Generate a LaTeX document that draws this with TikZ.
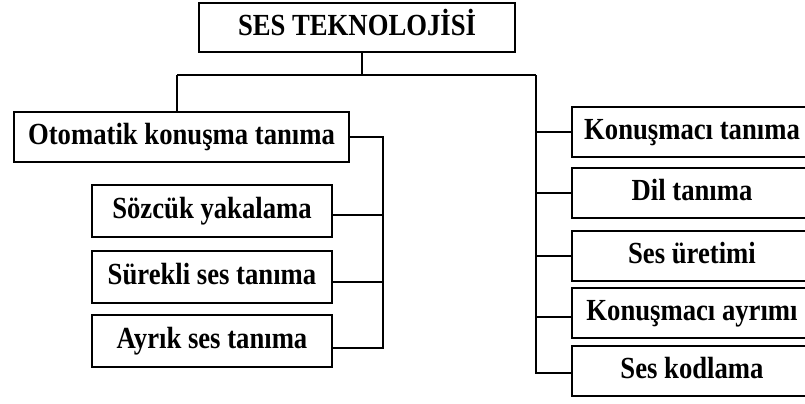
\documentclass[tikz,border=0pt]{standalone}
\usepackage{fontspec}
\setmainfont{Liberation Serif}[FakeStretch=0.87]
\begin{document}
\begin{tikzpicture}[x=0.75pt,y=-0.75pt,
  line width=1.5pt,
  box/.style={draw, line width=1.5pt, inner sep=0pt, align=center,
    font=\bfseries\fontsize{23}{27}\selectfont, text height=16pt, text depth=4.5pt},
  lbox/.style={box, minimum width=180pt, minimum height=39pt},
  rbox/.style={box, minimum width=180pt, minimum height=37.5pt}]
\clip (0,0) rectangle (805,403);
\fill[white] (0,0) rectangle (805,403);

\node[box, minimum width=237pt, minimum height=37pt] (top) at (357,27.5) {SES TEKNOLOJİSİ};
\node[box, minimum width=251pt, minimum height=37.5pt] (oto) at (181.5,137) {Otomatik konuşma tanıma};
\node[lbox] (s1) at (212,211) {Sözcük yakalama};
\node[lbox] (s2) at (212,276.5) {Sürekli ses tanıma};
\node[lbox] (s3) at (212,341) {Ayrık ses tanıma};

\node[rbox] (r1) at (692,131.5) {Konuşmacı tanıma};
\node[rbox] (r2) at (692,193) {Dil tanıma};
\node[rbox] (r3) at (692,255.5) {Ses üretimi};
\node[rbox] (r4) at (692,313) {Konuşmacı ayrımı};
\node[rbox] (r5) at (692,371) {Ses kodlama};

\coordinate (hl) at (177,75);
\coordinate (hr) at (536,75);
\coordinate (lb) at (383,137);

% top tree
\draw ([xshift=3.75pt]top.south) -- ([xshift=3.75pt]top.south |- hl);
\draw (hl) -- (hr);
\draw (hl) -- (hl |- oto.north);

% left bracket
\coordinate (c1) at ([yshift=-3pt]s1.east);
\coordinate (c2) at ([yshift=-4pt]s2.east);
\coordinate (c3) at ([yshift=-5pt]s3.east);
\draw (oto.east) -- (oto.east -| lb) -- (lb |- c3) -- (c3);
\draw (c1) -- (c1 -| lb);
\draw (c2) -- (c2 -| lb);

% right bus
\coordinate (d4) at ([yshift=-3pt]r4.west);
\coordinate (d5) at ([yshift=-1.5pt]r5.west);
\draw (hr) -- (hr |- d5) -- (d5);
\draw (r1.west) -- (r1.west -| hr);
\draw (r2.west) -- (r2.west -| hr);
\draw (r3.west) -- (r3.west -| hr);
\draw (d4) -- (d4 -| hr);
\end{tikzpicture}
\end{document}
